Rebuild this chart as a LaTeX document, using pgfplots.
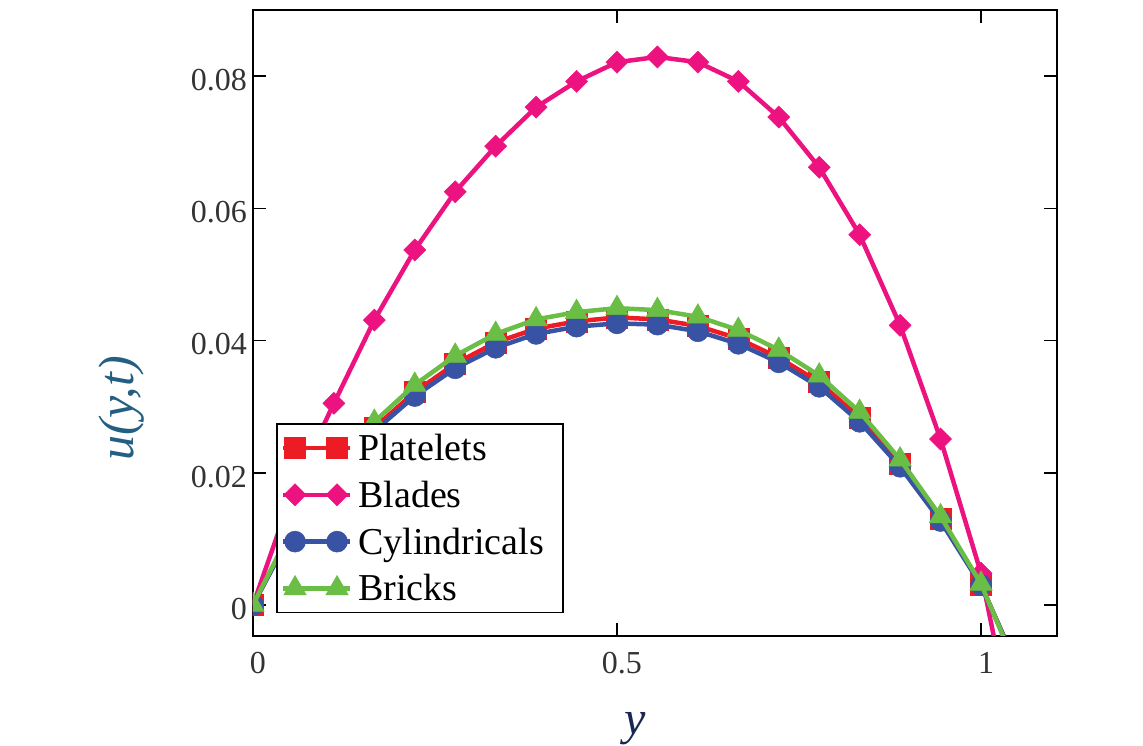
\documentclass[border=0pt]{standalone}
\usepackage{fontspec}
\setmainfont{Liberation Serif}
\usepackage{pgfplots}
\pgfplotsset{compat=1.18}
\usepackage{pgfplotstable}

\definecolor{cPlat}{RGB}{237,28,36}
\definecolor{cBlade}{RGB}{236,19,128}
\definecolor{cCyl}{RGB}{57,83,164}
\definecolor{cBrick}{RGB}{106,189,69}
\definecolor{cLab}{RGB}{35,95,130}

\pgfplotstableread{
x        plat     blade    cyl      brick
0        0        0        0        0
0.05556  0.0117   0.0175   0.0115   0.0121
0.11111  0.0204   0.0305   0.0200   0.0211
0.16667  0.0268   0.0431   0.0263   0.0277
0.22222  0.0322   0.0537   0.0316   0.0333
0.27778  0.0365   0.0625   0.0358   0.0377
0.33333  0.0397   0.0694   0.0389   0.0410
0.38889  0.0418   0.0753   0.0410   0.0432
0.44444  0.0429   0.0792   0.0421   0.0443
0.5      0.0435   0.0821   0.0426   0.0449
0.55556  0.0432   0.0829   0.0424   0.0446
0.61111  0.0422   0.0821   0.0414   0.0436
0.66667  0.0403   0.0792   0.0395   0.0416
0.72222  0.0374   0.0738   0.0367   0.0386
0.77778  0.0337   0.0662   0.0330   0.0347
0.83333  0.0283   0.0560   0.0277   0.0292
0.88889  0.0213   0.0423   0.0209   0.0220
0.94444  0.0130   0.0251   0.0127   0.0134
1.0      0.0031   0.0048   0.0030   0.0032
1.05556  -0.0109  -0.0253  -0.0107  -0.0113
}\data

\begin{document}
\begin{tikzpicture}
\begin{axis}[
  scale only axis, width=804pt, height=626pt,
  xmin=0, xmax=1.1044, ymin=-0.00469, ymax=0.09,
  xtick={0,0.5,1}, xticklabels={0,0.5,1},
  ytick={0,0.02,0.04,0.06,0.08}, yticklabels={0,0.02,0.04,0.06,0.08},
  tick align=inside, major tick length=13pt,
  axis line style={line width=1.6pt},
  every tick/.style={black, line width=1.6pt},
  tick label style={font=\fontsize{32}{32}\selectfont, text=black!80},
  xticklabel style={inner sep=0pt, yshift=-16pt, xshift=5pt},
  yticklabel style={inner sep=0pt, xshift=-6pt, yshift=-4pt},
  xlabel={\itshape y},
  ylabel={\itshape u(y,t)},
  xlabel style={at={([yshift=-93pt]rel axis cs:0.475,0)}, anchor=center, font=\fontsize{48}{48}\selectfont, text={rgb,255:red,25;green,40;blue,80}},
  ylabel style={at={([xshift=-131pt]rel axis cs:0,0.364)}, anchor=center, font=\fontsize{50}{50}\selectfont, text=cLab},
  clip marker paths=true,
  legend style={at={(rel axis cs:0.0286,0.340)}, anchor=north west, draw=black, line width=1.6pt,
    font=\fontsize{38}{42}\selectfont, inner xsep=4pt, inner ysep=8pt, row sep=15pt, column sep=4pt, nodes={inner sep=2pt}},
  legend cell align=left,
  legend image code/.code={
    \draw[#1, mark=none] (0pt,0pt) -- (67pt,0pt);
    \draw[#1, only marks] plot coordinates {(12pt,0pt) (54pt,0pt)};
  },
]
\addplot[cPlat, line width=4.5pt, mark=square*, mark size=10.5pt, mark options={solid, line width=0.5pt}] table[x=x,y=plat]{\data};
\addlegendentry{Platelets}
\addplot[cBlade, line width=4.5pt, mark=square*, mark size=7.8pt, mark options={solid, rotate=45, line width=0.5pt}] table[x=x,y=blade]{\data};
\addlegendentry{Blades}
\addplot[cCyl, line width=4.5pt, mark=*, mark size=10.5pt, mark options={solid, line width=0.5pt}] table[x=x,y=cyl]{\data};
\addlegendentry{Cylindricals\rule{13pt}{0pt}}
\addplot[cBrick, line width=4.5pt, mark=triangle*, mark size=13pt, mark options={solid, line width=0.5pt}] table[x=x,y=brick]{\data};
\addlegendentry{Bricks}
\coordinate (sw) at (rel axis cs:0,0);
\coordinate (ne) at (rel axis cs:1,1);
\end{axis}
\pgfresetboundingbox
\path[use as bounding box] ([shift={(-253pt,-110pt)}]sw) rectangle ([shift={(86pt,10pt)}]ne);
\end{tikzpicture}
\end{document}
